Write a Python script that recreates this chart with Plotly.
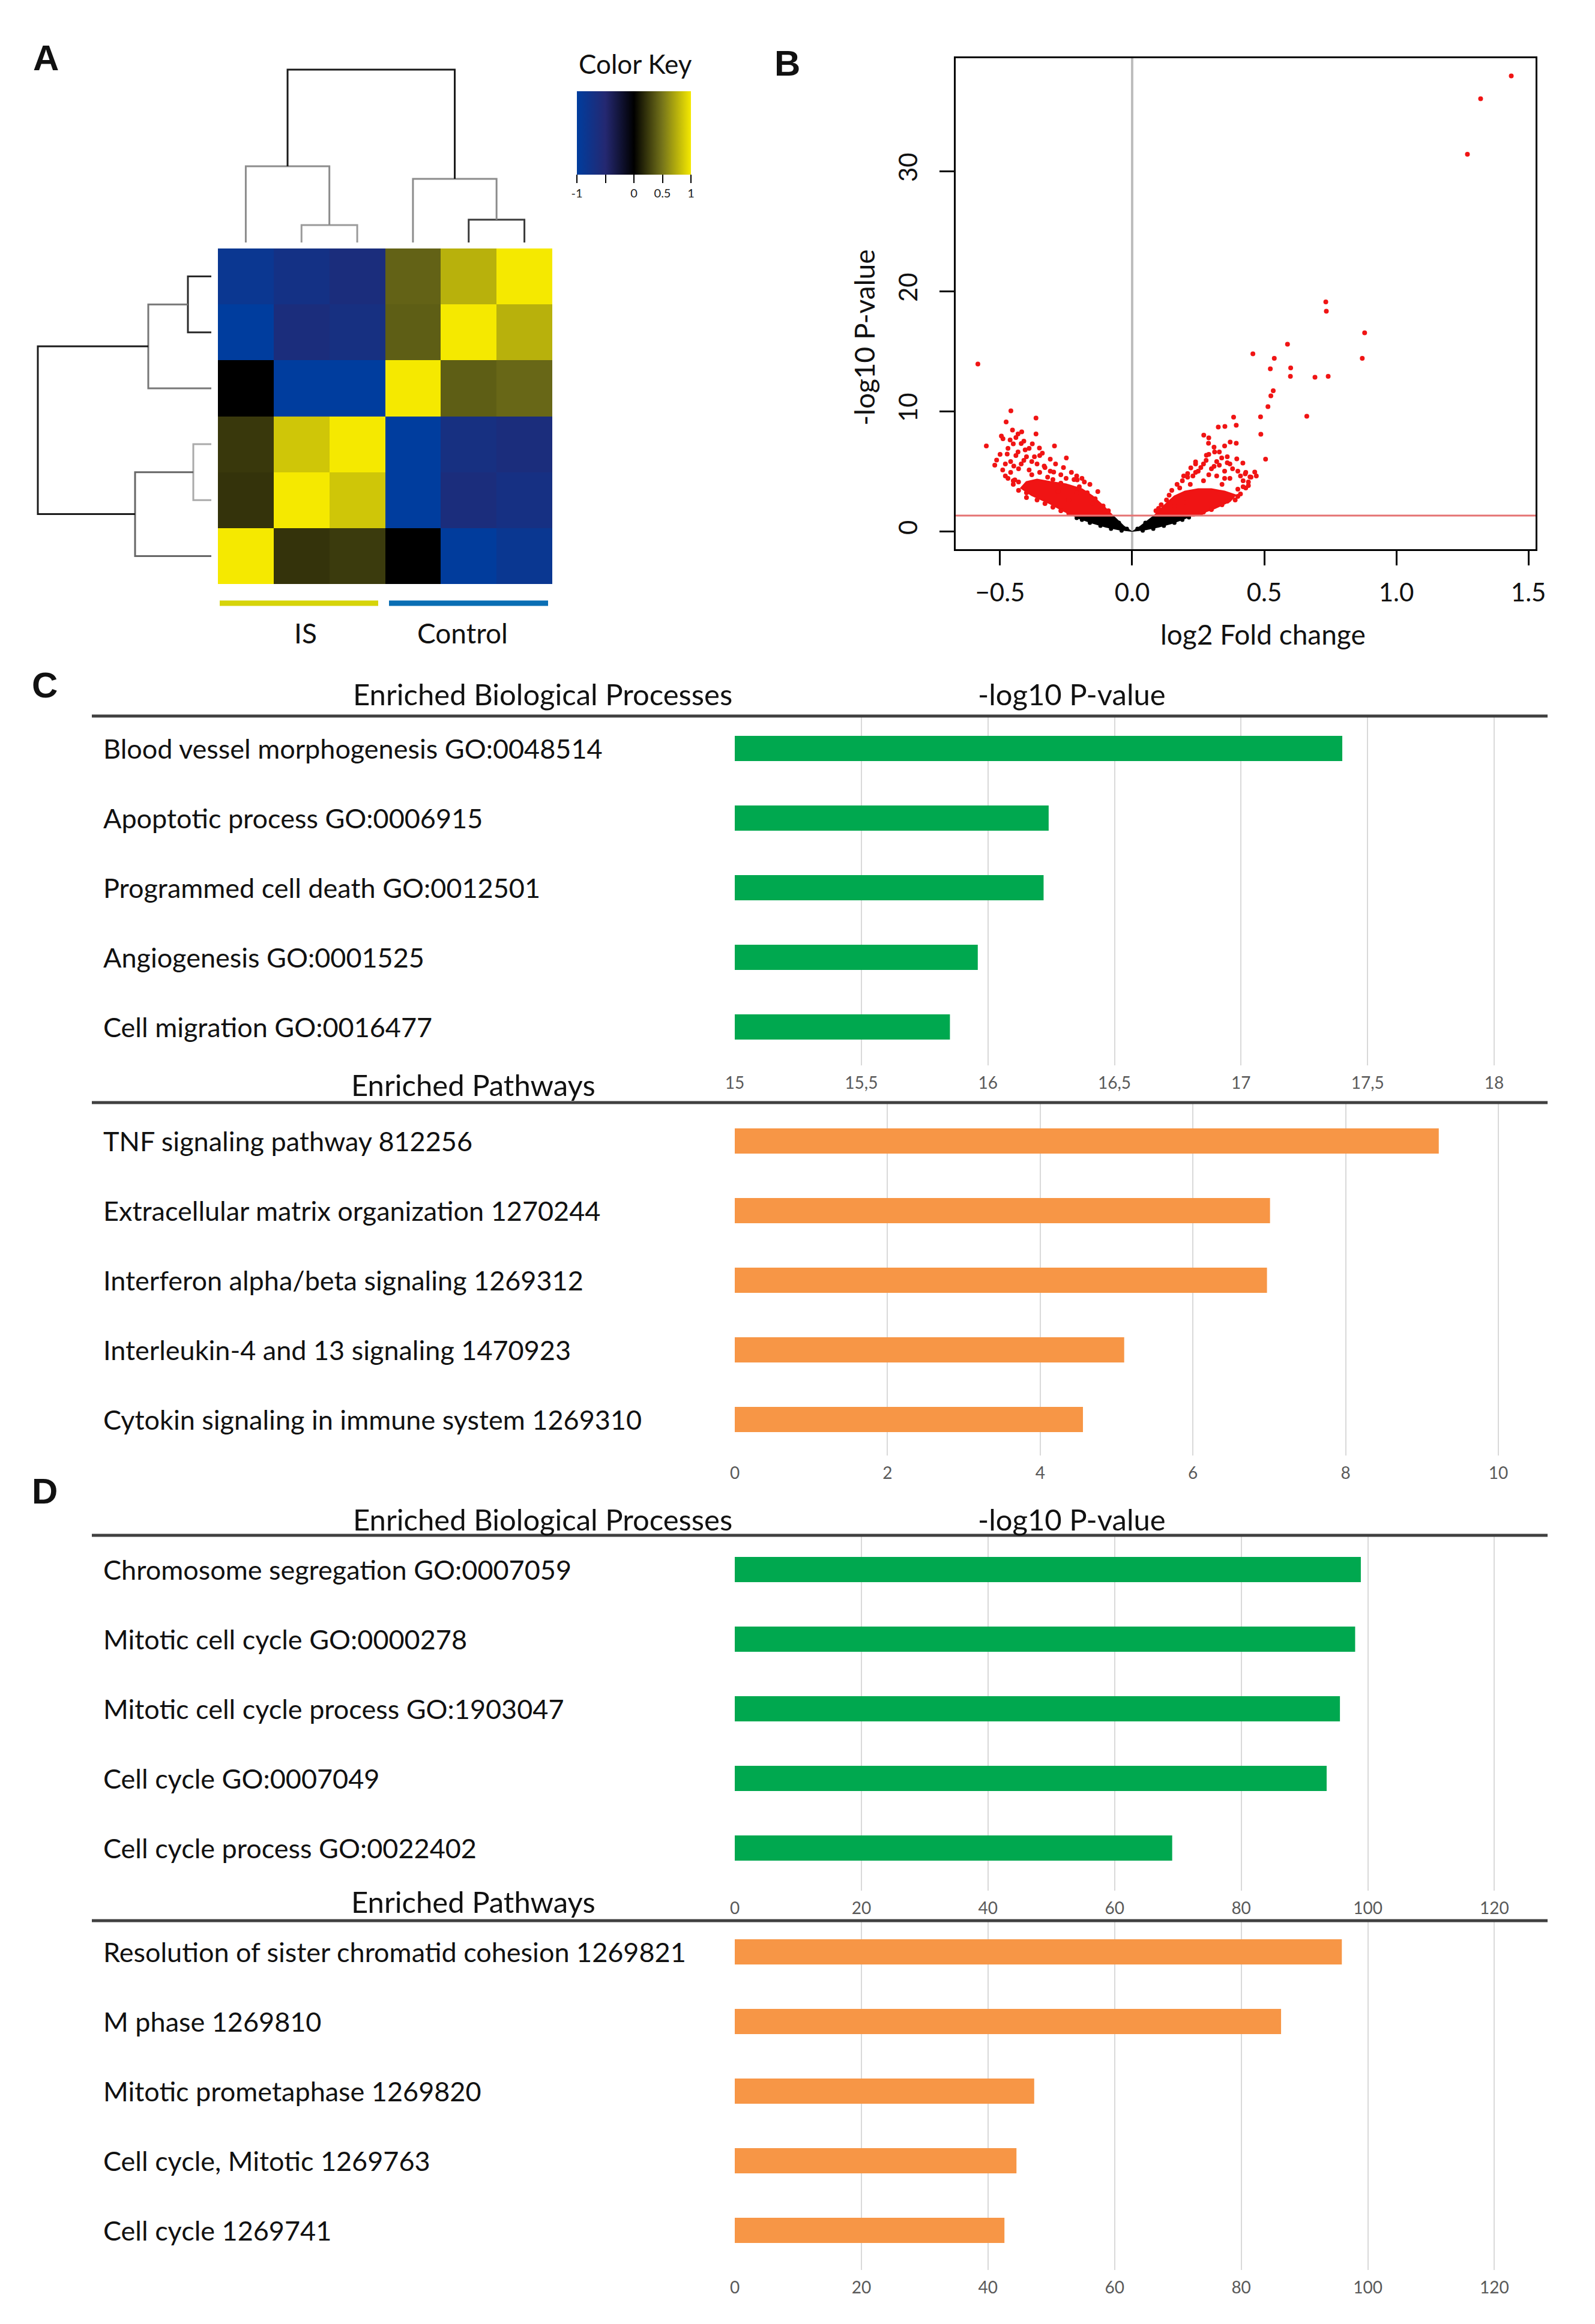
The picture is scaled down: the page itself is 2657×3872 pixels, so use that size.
import plotly.graph_objects as go

W, H = 2657, 3872
FONT = "Lato, 'Open Sans', 'DejaVu Sans', sans-serif"

# ---------------- Panel A data ----------------
heat_values = [
    [-0.85, -0.72, -0.62, 0.42, 0.76, 1.00],
    [-1.00, -0.62, -0.68, 0.40, 1.00, 0.76],
    [0.00, -1.00, -1.00, 1.00, 0.40, 0.44],
    [0.24, 0.85, 1.00, -1.00, -0.68, -0.62],
    [0.22, 1.00, 0.85, -1.00, -0.62, -0.70],
    [1.00, 0.22, 0.25, 0.00, -0.98, -0.86],
]
group_labels = ["IS", "Control"]
key_tickvals = [-1, -0.5, 0, 0.5, 1]
key_ticktext = ["-1", "", "0", "0.5", "1"]

# dendrogram merges (leaves 0..5, merges numbered 6..10 in order)
col_merge_a = [1, 0, 4, 3, 7]
col_merge_b = [2, 6, 5, 8, 9]
col_merge_h = [0.29, 1.27, 0.38, 1.06, 2.88]
row_merge_a = [0, 2, 3, 5, 7]
row_merge_b = [1, 6, 4, 8, 9]
row_merge_h = [0.39, 1.05, 0.30, 1.27, 2.89]

# ---------------- Panel B data ----------------
vol_red_left_fc = [-0.584, -0.552, -0.513, -0.48, -0.489, -0.477, -0.459, -0.453, -0.462, -0.45,
                   -0.418, -0.364, -0.364, -0.378, -0.294, -0.249, -0.432, -0.405, -0.351, -0.333,
                   -0.297, -0.208, -0.181, -0.444, -0.432, -0.495, -0.473, -0.448,
                   -0.40, -0.38, -0.36, -0.42, -0.46, -0.47, -0.45, -0.33, -0.31, -0.27, -0.25,
                   -0.22, -0.20, -0.17, -0.14, -0.11, -0.09, -0.35, -0.39, -0.42, -0.28, -0.24,
                   -0.40, -0.43, -0.30,
                   -0.50, -0.47, -0.44, -0.41, -0.37, -0.34, -0.31, -0.29, -0.26, -0.23, -0.21,
                   -0.19, -0.16, -0.13, -0.49, -0.46, -0.44, -0.41, -0.39, -0.35, -0.48, -0.45,
                   -0.43, -0.40, -0.36, -0.33, -0.30, -0.27, -0.24,
                   -0.52, -0.43, -0.38, -0.32, -0.27, -0.21, -0.15, -0.12]
vol_red_left_p = [13.93, 7.1, 5.93, 5.6, 7.7, 9.1, 10.03, 8.43, 7.6, 7.27,
                  8.27, 9.43, 8.1, 7.27, 7.1, 6.1, 6.6, 6.77, 6.93, 5.43,
                  4.93, 4.27, 4.1, 4.27, 8.1, 7.93, 6.43, 5.43,
                  6.2, 5.8, 5.6, 5.6, 4.9, 4.4, 3.9, 5.3, 5.0, 4.7, 4.4,
                  4.3, 3.7, 3.2, 2.7, 2.1, 1.7, 6.3, 6.9, 7.3, 3.3, 2.6,
                  3.2, 4.1, 4.3,
                  6.4, 6.9, 7.8, 7.5, 6.2, 6.5, 6.0, 5.6, 5.3, 4.9, 4.6,
                  4.4, 3.9, 3.3, 5.1, 5.8, 6.3, 5.9, 5.1, 4.9, 4.6, 4.2,
                  3.4, 2.8, 2.6, 2.3, 2.0, 1.7, 1.5,
                  5.5, 5.2, 4.7, 4.5, 4.0, 3.2, 2.3, 1.8]
vol_red_right_fc = [1.435, 1.319, 1.269, 0.733, 0.735, 0.88, 0.871, 0.588, 0.457, 0.538,
                    0.523, 0.6, 0.599, 0.692, 0.742, 0.534, 0.525, 0.514, 0.661, 0.486,
                    0.487, 0.505, 0.384, 0.394, 0.351, 0.326, 0.271, 0.29, 0.289, 0.371,
                    0.394, 0.24, 0.281, 0.339, 0.396, 0.428, 0.446, 0.464, 0.419, 0.312,
                    0.195, 0.222,
                    0.25, 0.30, 0.35, 0.37, 0.32, 0.27, 0.21, 0.17, 0.14, 0.11, 0.09,
                    0.42, 0.43, 0.40, 0.36, 0.30, 0.26, 0.45, 0.47, 0.41, 0.35, 0.29,
                    0.23, 0.36, 0.33,
                    0.19, 0.21, 0.24, 0.26, 0.28, 0.31, 0.33, 0.36, 0.38, 0.40, 0.43,
                    0.44, 0.42, 0.41, 0.39, 0.34, 0.30, 0.27, 0.15, 0.13, 0.10, 0.22,
                    0.27, 0.32, 0.37, 0.29, 0.31, 0.35,
                    0.18, 0.24, 0.34, 0.40, 0.44, 0.20, 0.16]
vol_red_right_p = [37.93, 36.03, 31.4, 19.1, 18.33, 16.53, 14.4, 15.57, 14.77, 14.4,
                   13.53, 13.6, 12.9, 12.83, 12.9, 11.7, 11.27, 10.37, 9.57, 9.53,
                   8.07, 6.0, 9.5, 8.83, 8.73, 8.67, 8.0, 7.77, 7.33, 7.43,
                   7.33, 5.77, 6.33, 6.1, 6.03, 4.77, 4.53, 4.93, 5.67, 6.6,
                   4.6, 5.27,
                   5.0, 5.2, 5.0, 5.6, 5.8, 5.6, 4.8, 3.9, 3.0, 2.2, 1.7,
                   4.2, 3.6, 2.9, 2.5, 1.9, 1.5, 4.5, 4.6, 4.6, 4.4, 4.7,
                   4.6, 6.2, 6.6,
                   4.2, 4.5, 4.9, 5.3, 5.9, 5.4, 5.5, 5.7, 5.2, 5.0, 4.9,
                   4.1, 3.7, 3.1, 2.6, 2.2, 1.8, 1.6, 3.4, 2.6, 1.9, 3.9,
                   4.2, 4.6, 4.4, 6.4, 7.0, 7.1,
                   3.6, 5.6, 3.9, 3.5, 3.8, 2.4, 2.1]
# dense cores (outlines of the saturated clouds)
vol_core_left_fc = [-0.22, -0.075, -0.11, -0.15, -0.19, -0.25, -0.31, -0.36, -0.40, -0.42, -0.38, -0.31, -0.26]
vol_core_left_p = [1.3, 1.3, 2.1, 2.9, 3.5, 3.9, 4.1, 4.3, 4.1, 3.6, 3.0, 2.3, 1.7]
vol_core_right_fc = [0.085, 0.125, 0.16, 0.20, 0.25, 0.30, 0.35, 0.39, 0.37, 0.31, 0.26, 0.235]
vol_core_right_p = [1.3, 2.2, 2.9, 3.3, 3.5, 3.5, 3.3, 3.0, 2.5, 1.9, 1.5, 1.3]
vol_black_fc = [0.0, -0.03, -0.07, -0.225, -0.20, -0.15, -0.10, -0.05, 0.0,
                0.05, 0.10, 0.15, 0.20, 0.228, 0.08, 0.03, 0.0]
vol_black_p = [0.0, 0.45, 1.3, 1.3, 1.0, 0.62, 0.3, 0.08, -0.05,
               0.08, 0.3, 0.6, 1.0, 1.3, 1.3, 0.45, 0.0]
vol_black_pts_fc = [-0.21, -0.19, -0.16, -0.12, -0.08, -0.04, 0.04, 0.08, 0.12, 0.16, 0.19, 0.215,
                    -0.02, 0.02, -0.05, 0.05]
vol_black_pts_p = [1.1, 0.95, 0.7, 0.45, 0.2, 0.05, 0.05, 0.2, 0.45, 0.7, 0.95, 1.15,
                   0.2, 0.2, 0.7, 0.7]
vol_p_threshold = 1.3
vol_xticks = [-0.5, 0, 0.5, 1.0, 1.5]
vol_xticktext = ["\u22120.5", "0.0", "0.5", "1.0", "1.5"]
vol_yticks = [0, 10, 20, 30]

# ---------------- Panels C / D data ----------------
c_bp_labels = ["Blood vessel morphogenesis GO:0048514", "Apoptotic process GO:0006915",
               "Programmed cell death GO:0012501", "Angiogenesis GO:0001525",
               "Cell migration GO:0016477"]
c_bp_values = [17.40, 16.24, 16.22, 15.96, 15.85]
c_bp_ticks = [15, 15.5, 16, 16.5, 17, 17.5, 18]
c_bp_ticktext = ["15", "15,5", "16", "16,5", "17", "17,5", "18"]

c_pw_labels = ["TNF signaling pathway 812256", "Extracellular matrix organization 1270244",
               "Interferon alpha/beta signaling 1269312", "Interleukin-4 and 13 signaling 1470923",
               "Cytokin signaling in immune system 1269310"]
c_pw_values = [9.22, 7.01, 6.97, 5.10, 4.56]
c_pw_ticks = [0, 2, 4, 6, 8, 10]

d_bp_labels = ["Chromosome segregation GO:0007059", "Mitotic cell cycle GO:0000278",
               "Mitotic cell cycle process GO:1903047", "Cell cycle GO:0007049",
               "Cell cycle process GO:0022402"]
d_bp_values = [98.9, 98.0, 95.6, 93.5, 69.1]
d_ticks = [0, 20, 40, 60, 80, 100, 120]

d_pw_labels = ["Resolution of sister chromatid cohesion 1269821", "M phase 1269810",
               "Mitotic prometaphase 1269820", "Cell cycle, Mitotic 1269763", "Cell cycle 1269741"]
d_pw_values = [95.9, 86.3, 47.3, 44.5, 42.6]

header_bp = "Enriched Biological Processes"
header_pw = "Enriched Pathways"
header_val = "-log10 P-value"

# ---------------- helpers ----------------
def px(x):
    return x / W


def py(y):
    return 1 - y / H


def note(text, x, y, size, **kw):
    d = dict(text=text, x=px(x), y=py(y), xref="paper", yref="paper", showarrow=False,
             xanchor="center", yanchor="middle", font=dict(size=size, family=FONT, color="#111"))
    d.update(kw)
    return d


def dendro_segments(ma, mb, mh, n=6):
    pos = {i: float(i) for i in range(n)}
    hgt = {i: 0.0 for i in range(n)}
    segs = []
    for k, (a, b, h) in enumerate(zip(ma, mb, mh)):
        segs.append(([pos[a], pos[a], pos[b], pos[b]], [hgt[a], h, h, hgt[b]]))
        pos[n + k] = (pos[a] + pos[b]) / 2
        hgt[n + k] = h
    return segs


fig = go.Figure()
annotations = []
shapes = []

# ---------------- Panel A ----------------
cscale = [[0, "#003D9E"], [0.25, "#242871"], [0.5, "#000000"], [0.75, "#76751A"], [1, "#F5E900"]]
fig.add_trace(go.Heatmap(
    z=heat_values, x=list(range(6)), y=list(range(6)), zmin=-1, zmax=1,
    colorscale=cscale, xaxis="x", yaxis="y", hoverinfo="skip",
    colorbar=dict(orientation="h", x=px(1056), xanchor="center", xref="paper",
                  y=py(152), yanchor="top", yref="paper",
                  len=190, lenmode="pixels", thickness=139, thicknessmode="pixels",
                  tickvals=key_tickvals, ticktext=key_ticktext, ticks="outside",
                  ticklen=14, tickwidth=2, tickcolor="black",
                  tickfont=dict(size=20, family=FONT, color="#222"),
                  outlinewidth=0, xpad=0, ypad=0),
))

col_colors = ["#9a9a9a", "#8c8c8c", "#3a3a3a", "#8c8c8c", "#1a1a1a"]
for (xs, ys), c in zip(dendro_segments(col_merge_a, col_merge_b, col_merge_h), col_colors):
    fig.add_trace(go.Scatter(x=xs, y=ys, mode="lines", line=dict(color=c, width=3),
                             xaxis="x2", yaxis="y2", hoverinfo="skip", showlegend=False))
row_colors = ["#2a2a2a", "#777777", "#aaaaaa", "#666666", "#1a1a1a"]
for (xs, ys), c in zip(dendro_segments(row_merge_a, row_merge_b, row_merge_h), row_colors):
    fig.add_trace(go.Scatter(x=ys, y=xs, mode="lines", line=dict(color=c, width=3),
                             xaxis="x3", yaxis="y3", hoverinfo="skip", showlegend=False))

shapes.append(dict(type="line", xref="paper", yref="paper", x0=px(366), x1=px(630), y0=py(1005), y1=py(1005),
                   line=dict(color="#D6D40A", width=9)))
shapes.append(dict(type="line", xref="paper", yref="paper", x0=px(648), x1=px(913), y0=py(1005), y1=py(1005),
                   line=dict(color="#0A6EB4", width=9)))
annotations.append(note(group_labels[0], 509, 1054, 46))
annotations.append(note(group_labels[1], 770, 1054, 46))
annotations.append(note("Color Key", 1058, 106, 44))

# ---------------- Panel B ----------------
fig.add_trace(go.Scatter(x=vol_black_fc, y=vol_black_p, mode="lines", fill="toself",
                         fillcolor="black", line=dict(width=0, color="black"),
                         xaxis="x4", yaxis="y4", hoverinfo="skip", showlegend=False))
fig.add_trace(go.Scatter(x=vol_black_pts_fc, y=vol_black_pts_p, mode="markers",
                         marker=dict(color="black", size=7),
                         xaxis="x4", yaxis="y4", hoverinfo="skip", showlegend=False))
for fx, fy in ((vol_core_left_fc, vol_core_left_p), (vol_core_right_fc, vol_core_right_p)):
    fig.add_trace(go.Scatter(x=fx + fx[:1], y=fy + fy[:1], mode="lines", fill="toself",
                             fillcolor="#F01414", line=dict(width=3, color="#F01414"),
                             xaxis="x4", yaxis="y4", hoverinfo="skip", showlegend=False))
fig.add_trace(go.Scatter(x=vol_red_left_fc + vol_red_right_fc, y=vol_red_left_p + vol_red_right_p,
                         mode="markers", marker=dict(color="#F01414", size=8),
                         xaxis="x4", yaxis="y4", hoverinfo="skip", showlegend=False))
shapes.append(dict(type="line", xref="x4 domain", yref="y4", x0=0, x1=1, y0=vol_p_threshold,
                   y1=vol_p_threshold, line=dict(color="#E57373", width=3)))
shapes.append(dict(type="line", xref="x4", yref="y4 domain", x0=0, x1=0, y0=0, y1=1,
                   line=dict(color="#BDBDBD", width=4), layer="below"))
annotations.append(note("-log10 P-value", 1440, 562, 46, textangle=-90))
annotations.append(note("log2 Fold change", 2104, 1056, 46))

# ---------------- Panels C / D ----------------
GREEN = "#00A84F"
ORANGE = "#F79646"
panels = [
    (5, c_bp_labels, c_bp_values, GREEN, [15, 18.211], c_bp_ticks, c_bp_ticktext, 1193, 1775, 1247),
    (6, c_pw_labels, c_pw_values, ORANGE, [0, 10.645], c_pw_ticks, [str(t) for t in c_pw_ticks], 1837, 2425, 1901),
    (7, d_bp_labels, d_bp_values, GREEN, [0, 128.4], d_ticks, [str(t) for t in d_ticks], 2558, 3150, 2615),
    (8, d_pw_labels, d_pw_values, ORANGE, [0, 128.4], d_ticks, [str(t) for t in d_ticks], 3200, 3782, 3252),
]
SP = 116.0
layout_axes = {}
for aid, labels, vals, col, xr, tv, tt, top, bot, c0 in panels:
    fig.add_trace(go.Bar(x=vals, y=list(range(len(vals))), orientation="h", width=0.36,
                         marker=dict(color=col, line=dict(width=0)),
                         xaxis=f"x{aid}", yaxis=f"y{aid}", hoverinfo="skip", showlegend=False))
    yr = [4 + (bot - (c0 + 4 * SP)) / SP, -(c0 - top) / SP]
    layout_axes[f"xaxis{aid}"] = dict(domain=[px(1224), px(2578)], range=xr, anchor=f"y{aid}",
                                      tickvals=tv, ticktext=tt, showgrid=True, gridcolor="#D9D9D9",
                                      gridwidth=2, zeroline=False, showline=False, ticks="",
                                      ticklabelstandoff=10,
                                      tickfont=dict(size=28, family=FONT, color="#595959"))
    layout_axes[f"yaxis{aid}"] = dict(domain=[py(bot), py(top)], range=yr, anchor=f"x{aid}",
                                      visible=False)
    for i, lab in enumerate(labels):
        annotations.append(dict(text=lab, x=px(170), y=i, xref="paper", yref=f"y{aid}",
                                xanchor="left", yanchor="middle", showarrow=False,
                                font=dict(size=45, family=FONT, color="#111")))
    shapes.append(dict(type="line", xref="paper", yref="paper", x0=px(153), x1=px(2578),
                       y0=py(top), y1=py(top), line=dict(color="#404040", width=5)))

for ytxt in (1156, 2531):
    annotations.append(note(header_bp, 904, ytxt, 49))
    annotations.append(note(header_val, 1785, ytxt, 49))
for ytxt in (1807, 3168):
    annotations.append(note(header_pw, 788, ytxt, 49))

for letter, lx, ly in (("A", 76, 96), ("B", 1311, 106), ("C", 74, 1141), ("D", 74, 2484)):
    annotations.append(dict(text=f"<b>{letter}</b>", x=px(lx), y=py(ly), xref="paper", yref="paper",
                            xanchor="center", yanchor="middle", showarrow=False,
                            font=dict(size=60, family="Liberation Sans, Arial", color="#111")))

fig.update_layout(
    width=W, height=H, margin=dict(l=0, r=0, t=0, b=0, autoexpand=False),
    paper_bgcolor="white", plot_bgcolor="white", showlegend=False,
    font=dict(family=FONT),
    xaxis=dict(domain=[px(363), px(920)], range=[-0.5, 5.5], visible=False, anchor="y"),
    yaxis=dict(domain=[py(973), py(414)], range=[5.5, -0.5], visible=False, anchor="x"),
    xaxis2=dict(domain=[px(363), px(920)], range=[-0.5, 5.5], visible=False, anchor="y2"),
    yaxis2=dict(domain=[py(404), py(112)], range=[0, 2.92], visible=False, anchor="x2"),
    xaxis3=dict(domain=[px(58), px(352)], range=[2.94, 0], visible=False, anchor="y3"),
    yaxis3=dict(domain=[py(973), py(414)], range=[5.5, -0.5], visible=False, anchor="x3"),
    xaxis4=dict(domain=[px(1592), px(2558)], range=[-0.668, 1.527], anchor="y4",
                showline=True, mirror=True, linecolor="black", linewidth=3,
                ticks="outside", ticklen=24, tickwidth=3, tickcolor="black",
                tickvals=vol_xticks, ticktext=vol_xticktext, showgrid=False, zeroline=False,
                ticklabelstandoff=10, tickfont=dict(size=42, family=FONT, color="#111")),
    yaxis4=dict(domain=[py(915), py(97)], range=[-1.5, 39.4], anchor="x4",
                showline=True, mirror=True, linecolor="black", linewidth=3,
                ticks="outside", ticklen=24, tickwidth=3, tickcolor="black",
                tickvals=vol_yticks, tickangle=-90, showgrid=False, zeroline=False,
                ticklabelstandoff=20, tickfont=dict(size=42, family=FONT, color="#111")),
    annotations=annotations, shapes=shapes,
    **layout_axes,
)

fig.write_html("out.html", config={"displayModeBar": False},
               post_script="document.body.style.margin='0';")
